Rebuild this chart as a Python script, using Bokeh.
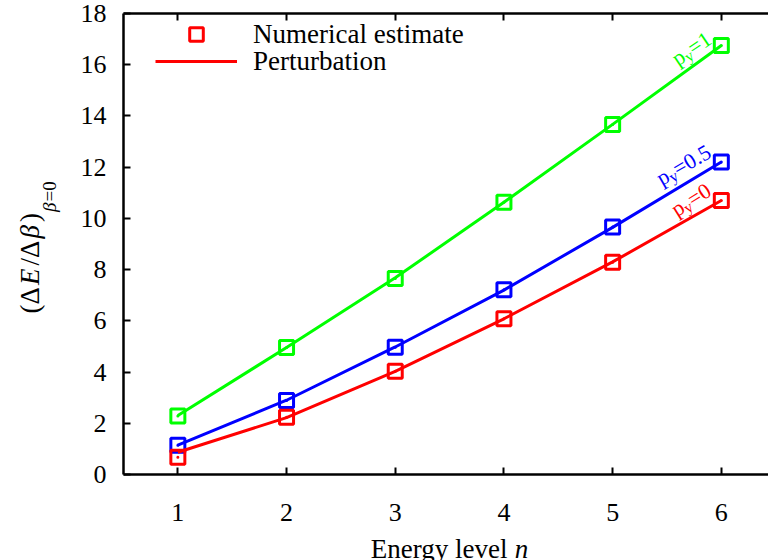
import numpy as np
from bokeh.plotting import figure
from bokeh.layouts import row, column
from bokeh.models import (Range1d, LinearAxis, FixedTicker, Legend, LegendItem,
                          ColumnDataSource)
from bokeh.core.properties import value
from bokeh.embed import file_html
from bokeh.resources import INLINE

# ---------------- data ----------------
n_levels = [1, 2, 3, 4, 5, 6]
num_py1 = [2.28, 4.96, 7.65, 10.63, 13.67, 16.75]
num_py05 = [1.14, 2.89, 4.97, 7.21, 9.66, 12.20]
num_py0 = [0.67, 2.24, 4.03, 6.08, 8.29, 10.70]
pert_py1 = [2.30, 4.96, 7.68, 10.63, 13.67, 16.75]
pert_py05 = [1.15, 2.90, 4.98, 7.20, 9.65, 12.20]
pert_py0 = [0.87, 2.22, 4.03, 6.08, 8.30, 10.70]
x_ticks = [1, 2, 3, 4, 5, 6]
x_tick_labels = ["1", "2", "3", "4", "5", "6"]
y_ticks = [0, 2, 4, 6, 8, 10, 12, 14, 16, 18]
series_values = ["1", "0.5", "0"]

FONT = "Liberation Serif"
RED, BLUE, GREEN = "#ff0000", "#0000ff", "#00ff00"

# Times / Liberation Serif advance widths (em)
W = {'p': .5, 'y': .5, '=': .564, '0': .5, '1': .5, '.': .25, '5': .5,
     '(': .333, ')': .333, '/': .278, 'Δ': .612, 'E': .611, 'β': .5,
     'n': .5, 'r': .333, 'g': .5, 'v': .5, 'l': .278, ' ': .25, 'e': .444}


def tw(t, sz):
    return sum(W.get(c, .5) for c in t) * sz


def style_axis(ax, ticks, show_labels=True, standoff=15, tick_in=7):
    ax.ticker = FixedTicker(ticks=ticks)
    ax.major_tick_in = tick_in
    ax.major_tick_out = 0
    ax.minor_tick_line_color = None
    ax.major_tick_line_width = 2
    ax.axis_line_width = 2.5
    ax.axis_line_color = "black"
    ax.major_tick_line_color = "black"
    ax.major_label_text_font = FONT
    ax.major_label_text_color = "black"
    if show_labels:
        ax.major_label_text_font_size = "26px"
        ax.major_label_standoff = standoff
    else:
        ax.major_label_text_font_size = "0px"
        ax.major_label_standoff = 0
        ax.major_label_overrides = {t: "" for t in ticks}


def rich_source(pieces, x, y, angle_deg, start):
    """pieces: (text, size_px, shift_down_px, style, extra_gap_px)."""
    th = np.deg2rad(angle_deg)
    widths = [tw(t, s) + g for t, s, _, _, g in pieces]
    d = start(sum(widths))
    rows = dict(x=[], y=[], text=[], xo=[], yo=[], ang=[], size=[], style=[])
    for (t, s, sh, st, g), w in zip(pieces, widths):
        rows["x"].append(x)
        rows["y"].append(y)
        rows["text"].append(t)
        rows["xo"].append(d * np.cos(th) + sh * np.sin(th))
        rows["yo"].append(-d * np.sin(th) + sh * np.cos(th))
        rows["ang"].append(th)
        rows["size"].append(f"{s}px")
        rows["style"].append(st)
        d += w
    return rows


x_range = Range1d(0.5, 6.434)
LEFT_STRIP = 62
MAIN_H = 486
TITLE_H = 560 - MAIN_H

# ---------------- main plot ----------------
p = figure(width=768 - LEFT_STRIP, height=MAIN_H, x_range=x_range, y_range=Range1d(0, 18),
           output_backend="svg", toolbar_location=None,
           min_border_left=123 - LEFT_STRIP, min_border_right=0, min_border_top=13,
           min_border_bottom=MAIN_H - 474)
p.outline_line_color = None
p.grid.visible = False

style_axis(p.xaxis[0], x_ticks, show_labels=False)
style_axis(p.yaxis[0], y_ticks, standoff=17)
top_axis = LinearAxis()
style_axis(top_axis, x_ticks, show_labels=False)
p.add_layout(top_axis, "above")

legend_sq = None
legend_line = None
for nums, pert, col in [(num_py1, pert_py1, GREEN), (num_py05, pert_py05, BLUE),
                        (num_py0, pert_py0, RED)]:
    ln = p.line(n_levels, pert, line_color=col, line_width=3)
    sq = p.scatter(n_levels, nums, marker="square", size=14, fill_color=None,
                   line_color=col, line_width=3)
    p.scatter(n_levels, nums, marker="circle", size=3, fill_color=col, line_color=None)
    if col == RED:
        legend_sq, legend_line = sq, ln

legend_kw = dict(border_line_color=None, background_fill_alpha=0, padding=0, margin=0,
                 glyph_width=82, glyph_height=34, label_height=34, label_standoff=16,
                 spacing=0, label_text_font=FONT, label_text_font_size="27px",
                 label_text_color="black")
p.add_layout(Legend(items=[LegendItem(label="Numerical estimate", renderers=[legend_sq])],
                    location=(32, 423), **legend_kw), "center")
p.add_layout(Legend(items=[LegendItem(label="Perturbation", renderers=[legend_line])],
                    location=(32, 396), **legend_kw), "center")

# rotated p_y labels
lab_x = [5.886, 5.886, 5.886]
lab_y = [17.10, 12.67, 11.17]
lab_ang = [34, 30, 32]
lab_col = [GREEN, BLUE, RED]
F, FS, SH = 22, 16, 5
for sv, lx, ly, la, lc in zip(series_values, lab_x, lab_y, lab_ang, lab_col):
    pieces = [("p", F, 0, "normal", 0), ("y", FS, SH, "normal", 0), ("=" + sv, F, 0, "normal", 0)]
    src = ColumnDataSource(rich_source(pieces, lx, ly, la, lambda tot: -tot))
    p.text(x="x", y="y", text="text", x_offset="xo", y_offset="yo", angle="ang",
           text_font_size="size", text_color=lc, text_font=value(FONT),
           text_align="left", text_baseline="alphabetic", source=src)

# ---------------- x strip: tick labels + "Energy level n" (pixel-exact y) ----------------
px = figure(width=768 - LEFT_STRIP, height=TITLE_H, x_range=x_range,
            y_range=Range1d(0, TITLE_H), output_backend="svg", toolbar_location=None,
            min_border_left=123 - LEFT_STRIP, min_border_right=0,
            min_border_top=0, min_border_bottom=0,
            x_axis_location=None, y_axis_location=None)
px.outline_line_color = None
px.grid.visible = False
px.text(x=x_ticks, y=[560 - 512] * len(x_ticks), text=x_tick_labels,
        text_font=value(FONT), text_font_size="26px", text_color="black",
        text_align="center", text_baseline="alphabetic")
xt = [("Energy level", 27, 0, "normal", tw(" ", 27)), ("n", 27, 0, "italic", 0)]
px.text(x="x", y="y", text="text", x_offset="xo", y_offset="yo", angle="ang",
        text_font_size="size", text_font_style="style", text_color="black",
        text_font=value(FONT), text_align="left", text_baseline="alphabetic",
        source=ColumnDataSource(rich_source(xt, 3.5, 560 - 548, 0, lambda tot: -tot / 2)))

# ---------------- y title strip: (ΔE/Δβ)_{β=0} ----------------
py = figure(width=LEFT_STRIP, height=560, x_range=Range1d(0, LEFT_STRIP),
            y_range=Range1d(0, 560), output_backend="svg", toolbar_location=None,
            min_border_left=0, min_border_right=0, min_border_top=0, min_border_bottom=0,
            x_axis_location=None, y_axis_location=None)
py.outline_line_color = None
py.grid.visible = False
yt = [("(Δ", 27, 0, "normal", 3), ("E", 27, 0, "italic", 3), ("/Δ", 27, 0, "normal", 3),
      ("β", 27, 0, "italic", 3), (")", 27, 0, "normal", 1),
      ("β", 19, 20, "italic", 1), ("=0", 19, 20, "normal", 0)]
py.text(x="x", y="y", text="text", x_offset="xo", y_offset="yo", angle="ang",
        text_font_size="size", text_font_style="style", text_color="black",
        text_font=value(FONT), text_align="left", text_baseline="alphabetic",
        source=ColumnDataSource(rich_source(yt, 29, 247, 90, lambda tot: 0)))

layout = row(py, column(p, px, spacing=0), spacing=0)
open("out.html", "w").write(file_html(layout, INLINE))
